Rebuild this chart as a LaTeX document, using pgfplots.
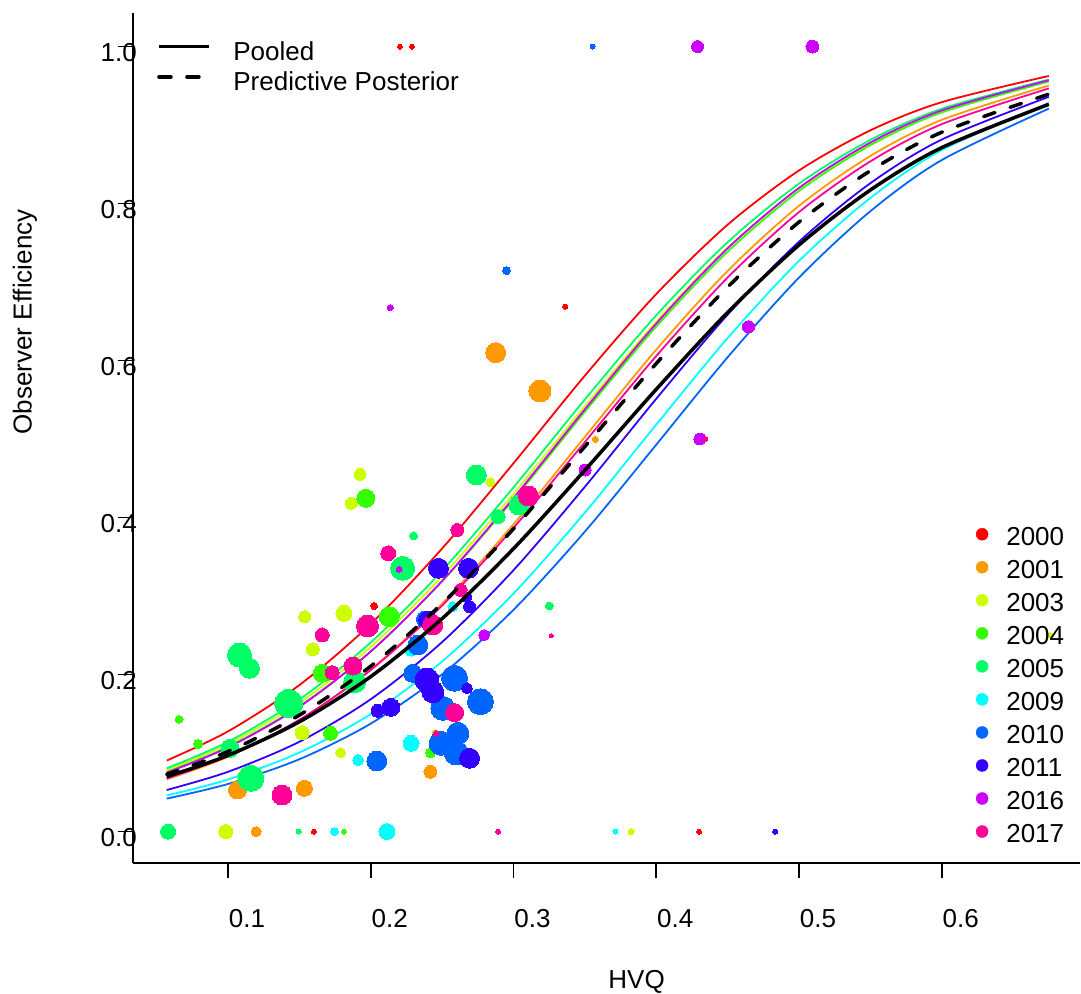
\documentclass[border=0pt]{standalone}
\usepackage{pgfplots}
\pgfplotsset{compat=1.18}
\usepackage{pgfplotstable}
\usepackage{fontspec}
\setmainfont{Liberation Sans}

\definecolor{c2000}{HTML}{FF0000}
\definecolor{c2001}{HTML}{FF9900}
\definecolor{c2003}{HTML}{CCFF00}
\definecolor{c2004}{HTML}{33FF00}
\definecolor{c2005}{HTML}{00FF66}
\definecolor{c2009}{HTML}{00FFFF}
\definecolor{c2010}{HTML}{0066FF}
\definecolor{c2011}{HTML}{3300FF}
\definecolor{c2016}{HTML}{CC00FF}
\definecolor{c2017}{HTML}{FF0099}

% fitted curves
\pgfplotstableread{
x     r00    r01    r03    r04    r05    r09    r10    r11    r16    r17    pool   pred
0.057 0.0905 0.0666 0.0785 0.0760 0.0806 0.0460 0.0420 0.0530 0.0751 0.0677 0.0700 0.0729
0.100 0.1277 0.0953 0.1114 0.1081 0.1144 0.0664 0.0607 0.0762 0.1072 0.0962 0.0971 0.1020
0.150 0.1867 0.1420 0.1641 0.1598 0.1684 0.1007 0.0922 0.1145 0.1590 0.1425 0.1399 0.1484
0.200 0.2646 0.2065 0.2352 0.2297 0.2410 0.1497 0.1376 0.1687 0.2295 0.2059 0.1975 0.2108
0.250 0.3607 0.2904 0.3252 0.3187 0.3325 0.2168 0.2004 0.2415 0.3194 0.2880 0.2714 0.2906
0.300 0.4693 0.3915 0.4303 0.4231 0.4386 0.3033 0.2826 0.3331 0.4251 0.3870 0.3605 0.3858
0.350 0.5809 0.5029 0.5419 0.5349 0.5506 0.4064 0.3822 0.4393 0.5380 0.4963 0.4604 0.4906
0.400 0.6848 0.6140 0.6495 0.6434 0.6577 0.5185 0.4929 0.5514 0.6472 0.6059 0.5635 0.5963
0.450 0.7731 0.7143 0.7438 0.7388 0.7508 0.6287 0.6043 0.6585 0.7430 0.7058 0.6614 0.6937
0.500 0.8422 0.7972 0.8198 0.8161 0.8254 0.7270 0.7058 0.7515 0.8200 0.7892 0.7473 0.7765
0.550 0.8933 0.8607 0.8770 0.8744 0.8811 0.8072 0.7903 0.8260 0.8777 0.8538 0.8173 0.8419
0.600 0.9292 0.9067 0.9178 0.9161 0.9208 0.8682 0.8555 0.8816 0.9187 0.9012 0.8713 0.8909
0.675 0.9626 0.9504 0.9563 0.9555 0.9580 0.9281 0.9210 0.9360 0.9572 0.9467 0.9265 0.9394
}\curves

\pgfplotstableread{
x y r
0.2204 1.0 2.5
0.2289 1.0 2.5
0.1601 0.0 2.5
0.4300 0.0 2.5
0.2023 0.2874 3.5
0.3362 0.6687 2.5
}\tA
\pgfplotstableread{
x y r
0.1197 0.0 5
0.1066 0.0530 9
0.1535 0.0551 8
0.2418 0.0763 6.5
0.2875 0.6101 10
0.3185 0.5613 11
0.3573 0.4997 3
}\tB
\pgfplotstableread{
x y r
0.0984 0.0 7
0.3824 0.0 3
0.1519 0.1260 7
0.1537 0.2738 6
0.1812 0.2781 8
0.1594 0.2322 6.5
0.1789 0.1005 5
0.1864 0.4182 6
0.1925 0.4551 6
0.2838 0.4450 4.5
0.6760 0.2504 2.5
0.2242 0.3341 3
0.2445 0.1265 2.5
}\tC
\pgfplotstableread{
x y r
0.1812 0.0 2.5
0.0657 0.1430 4
0.0790 0.1116 4.5
0.2129 0.2738 10
0.1660 0.2017 9
0.1718 0.1252 7
0.2418 0.1005 5
0.1965 0.4246 9
}\tD
\pgfplotstableread{
x y r
0.0580 0.0 7.5
0.1495 0.0 2.5
0.3251 0.2874 4
0.1080 0.2250 12
0.1150 0.2080 10
0.1014 0.1061 9
0.1425 0.1634 14
0.1160 0.0679 13
0.1887 0.1910 11
0.2300 0.3766 4
0.2223 0.3354 12
0.2739 0.4543 10
0.3038 0.4160 10
0.2892 0.4012 7
}\tE
\pgfplotstableread{
x y r
0.1746 0.0 4
0.2113 0.0 8
0.3714 0.0 2.5
0.1911 0.0912 5.5
0.2282 0.1125 8
0.2282 0.2313 6
0.2575 0.2865 5
}\tF
\pgfplotstableread{
x y r
0.3554 1.0 2.5
0.2587 0.1953 13
0.2768 0.1655 13
0.2610 0.1252 11
0.2599 0.1001 12
0.2042 0.0899 10
0.2329 0.2377 10
0.2294 0.2016 9
0.2505 0.1570 12
0.2493 0.1125 12
0.2951 0.7146 4
0.2376 0.2705 8
}\tG
\pgfplotstableread{
x y r
0.4833 0.0 2.5
0.2674 0.1825 5.5
0.2692 0.0934 10
0.2674 0.2985 5
0.2692 0.2865 6
0.2047 0.1540 6.5
0.2141 0.1583 9
0.2399 0.2695 9
0.2394 0.1931 12
0.2434 0.1782 11
0.2474 0.3354 10
0.2685 0.3354 10
}\tH
\pgfplotstableread{
x y r
0.4289 1.0 6
0.5094 1.0 6.5
0.2794 0.2504 5.5
0.2136 0.6674 3
0.4646 0.6432 6
0.4305 0.5001 6
0.3502 0.4606 6
0.2199 0.3341 3
}\tI
\pgfplotstableread{
x y r
0.2892 0.0 2.5
0.3265 0.2496 2
0.2587 0.1515 9
0.2629 0.3078 6.5
0.1378 0.0466 10
0.1660 0.2505 7
0.1977 0.2619 11
0.1730 0.2024 7
0.1875 0.2109 9
0.2434 0.2632 10
0.2458 0.1252 3
0.2122 0.3545 7.5
0.2606 0.3842 6.5
0.4343 0.5001 2.5
0.3104 0.4275 10
}\tJ

\newcommand\pts[2]{\addplot[scatter, only marks, mark=*, forget plot,
  scatter/use mapped color={draw=#1, fill=#1}, mark options={line width=0pt},
  visualization depends on={\thisrow{r}\as\rr},
  scatter/@pre marker code/.append style={/tikz/mark size=\rr}] table {#2};}
\newcommand\crv[2]{\addplot[#1, line width=1.8bp, forget plot, smooth, mark=none] table[x=x, y=#2] {\curves};}
\newcommand\yl[2]{\addlegendimage{legend image code/.code={\fill[#1] (6bp,3bp) circle (6bp);}}\addlegendentry{#2}}

\pgfplotsset{
  common/.style={
    at={(132.7bp,131bp)}, anchor=south west,
    scale only axis, width=947.1bp, height=850bp,
    xmin=0.0332, xmax=0.6967, ymin=-0.04, ymax=1.0428,
    clip=false,
  }
}

\begin{document}
\begin{tikzpicture}
\path[use as bounding box] (0bp,0bp) rectangle (1081bp,994bp);
\begin{axis}[common,
  axis x line*=bottom, axis y line*=left,
  axis line style={-, line width=1.6bp, black},
  tick align=outside, major tick length=15bp,
  tick style={line width=1.6bp, black},
  xtick={0.1,0.2,0.3,0.4,0.5,0.6}, ytick={0,0.2,0.4,0.6,0.8,1},
  xticklabels={0.1,0.2,0.3,0.4,0.5,0.6},
  yticklabels={0.0,0.2,0.4,0.6,0.8,1.0},
  minor tick num=0, scaled ticks=false,
  tick label style={font=\fontsize{26bp}{30bp}\selectfont, inner sep=0pt},
  xticklabel style={anchor=north, xshift=19bp, yshift=-30.7bp},
  yticklabel style={anchor=east, xshift=19.3bp, yshift=-5.5bp},
  label style={font=\fontsize{26bp}{30bp}\selectfont},
  xlabel={HVQ}, ylabel={Observer Efficiency},
  xlabel style={at={(axis description cs:0.532,-0.1394)}, anchor=center},
  ylabel style={at={(axis description cs:-0.1137,0.6365)}, anchor=center},
  legend style={draw=none, fill=none, at={(axis description cs:0.8901,0.3974)}, anchor=north west,
    inner sep=0pt, font=\fontsize{26bp}{30bp}\selectfont, row sep=9.4bp, column sep=16bp},
  legend cell align=left,
]
\pts{c2000}{\tA}
\pts{c2001}{\tB}
\pts{c2003}{\tC}
\pts{c2004}{\tD}
\pts{c2005}{\tE}
\pts{c2009}{\tF}
\pts{c2010}{\tG}
\pts{c2011}{\tH}
\pts{c2016}{\tI}
\pts{c2017}{\tJ}
\crv{c2000}{r00}
\crv{c2001}{r01}
\crv{c2003}{r03}
\crv{c2004}{r04}
\crv{c2005}{r05}
\crv{c2009}{r09}
\crv{c2010}{r10}
\crv{c2011}{r11}
\crv{c2016}{r16}
\crv{c2017}{r17}
\yl{c2000}{2000}
\yl{c2001}{2001}
\yl{c2003}{2003}
\yl{c2004}{2004}
\yl{c2005}{2005}
\yl{c2009}{2009}
\yl{c2010}{2010}
\yl{c2011}{2011}
\yl{c2016}{2016}
\yl{c2017}{2017}
\end{axis}
\begin{axis}[common, hide axis,
  legend image code/.code={\draw[#1] (0bp,5bp) -- (50bp,5bp);},
  legend style={draw=none, fill=none, at={(axis description cs:0.02566,0.9692)}, anchor=north west,
    inner sep=0pt, font=\fontsize{26bp}{30bp}\selectfont, row sep=6bp, column sep=20.7bp},
  legend cell align=left,
]
\addplot[black, line width=3.5bp, smooth, mark=none] table[x=x, y=pool] {\curves};
\addlegendentry{Pooled}
\addplot[black, line width=3.5bp, smooth, mark=none, dash pattern=on 12bp off 16bp, line cap=round] table[x=x, y=pred] {\curves};
\addlegendentry{Predictive Posterior}
\end{axis}
\end{tikzpicture}
\end{document}
